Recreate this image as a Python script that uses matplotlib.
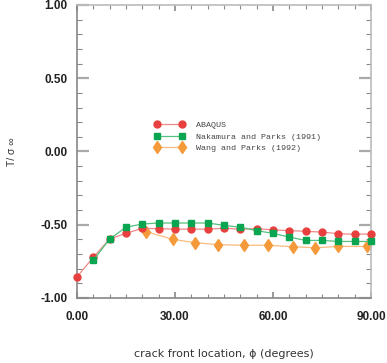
import matplotlib
matplotlib.use("Agg")
import matplotlib.pyplot as plt
from matplotlib.ticker import MultipleLocator, FormatStrFormatter

phi_abaqus = [0, 5, 10, 15, 20, 25, 30, 35, 40, 45, 50, 55, 60, 65, 70, 75, 80, 85, 90]
t_abaqus = [-0.855, -0.722, -0.597, -0.559, -0.524, -0.527, -0.53, -0.53, -0.53, -0.524,
            -0.53, -0.527, -0.535, -0.54, -0.545, -0.55, -0.561, -0.565, -0.563]

phi_nak = [5, 10, 15, 20, 25, 30, 35, 40, 45, 50, 55, 60, 65, 70, 75, 80, 85, 90]
t_nak = [-0.743, -0.597, -0.517, -0.495, -0.488, -0.488, -0.488, -0.488, -0.504, -0.517,
         -0.54, -0.559, -0.584, -0.607, -0.607, -0.614, -0.614, -0.614]

phi_wang = [21, 29.5, 36, 43.3, 51, 58.5, 66.2, 73, 80, 88.9]
t_wang = [-0.547, -0.60, -0.622, -0.636, -0.64, -0.64, -0.65, -0.657, -0.648, -0.648]

labels = ["ABAQUS", "Nakamura and Parks (1991)", "Wang and Parks (1992)"]

fig = plt.figure(figsize=(3.87, 3.63), dpi=100)
ax = fig.add_axes([77/387, 1-298/363, 294/387, 293/363])

red, green, orange = "#e8403e", "#0aa550", "#f59a3a"
ax.plot(phi_abaqus, t_abaqus, color="#f08a88", lw=0.9, marker="o", ms=5,
        mfc=red, mec=red, label=labels[0], zorder=3, clip_on=False)
ax.plot(phi_nak, t_nak, color="#55c07f", lw=0.9, marker="s", ms=4.8,
        mfc=green, mec=green, label=labels[1], zorder=4, clip_on=False)
ax.plot(phi_wang, t_wang, color="#f7bb7f", lw=0.9, marker="d", ms=6.5,
        mfc=orange, mec=orange, label=labels[2], zorder=2, clip_on=False)

ax.set_xlim(0, 90)
ax.set_ylim(-1, 1)
ax.xaxis.set_major_locator(MultipleLocator(30))
ax.xaxis.set_minor_locator(MultipleLocator(5))
ax.yaxis.set_major_locator(MultipleLocator(0.5))
ax.yaxis.set_minor_locator(MultipleLocator(0.1))
ax.xaxis.set_major_formatter(FormatStrFormatter("%.2f"))
ax.yaxis.set_major_formatter(FormatStrFormatter("%.2f"))

for s in ax.spines.values():
    s.set_color("#bbbbbb")
    s.set_linewidth(1.2)
ax.spines["left"].set_color("#888888")
ax.spines["bottom"].set_color("#888888")

ax.tick_params(which="both", direction="in", top=True, right=True, colors="#888888")
ax.tick_params(which="major", width=1.2, labelsize=8.5, labelcolor="#222222")
ax.tick_params(axis="x", which="major", pad=9, length=4.3)
ax.tick_params(axis="y", which="major", pad=7, length=8.5, color="#aaaaaa", width=1.6)
ax.tick_params(axis="x", which="minor", length=2.9, width=0.8)
ax.tick_params(axis="y", which="minor", length=3.6, width=0.8)
for lab in ax.get_xticklabels() + ax.get_yticklabels():
    lab.set_fontfamily("Liberation Sans")
    lab.set_fontweight("bold")

ax.set_ylabel("T/ σ ∞", fontsize=7.5, family="Liberation Sans", color="#333333", labelpad=17)
ax.set_xlabel("crack front location, ϕ (degrees)", fontsize=8, family="DejaVu Sans",
              color="#333333", labelpad=19)

leg = ax.legend(loc="upper left", bbox_to_anchor=(150/387, 1-117/363),
                bbox_transform=fig.transFigure, frameon=False,
                prop={"family": "Liberation Mono", "size": 6}, numpoints=2,
                handlelength=3.6, handletextpad=1.4, labelspacing=0.45, borderpad=0,
                markerscale=1.0)
for t in leg.get_texts():
    t.set_color("#444444")

fig.savefig("out.png", dpi=100)
